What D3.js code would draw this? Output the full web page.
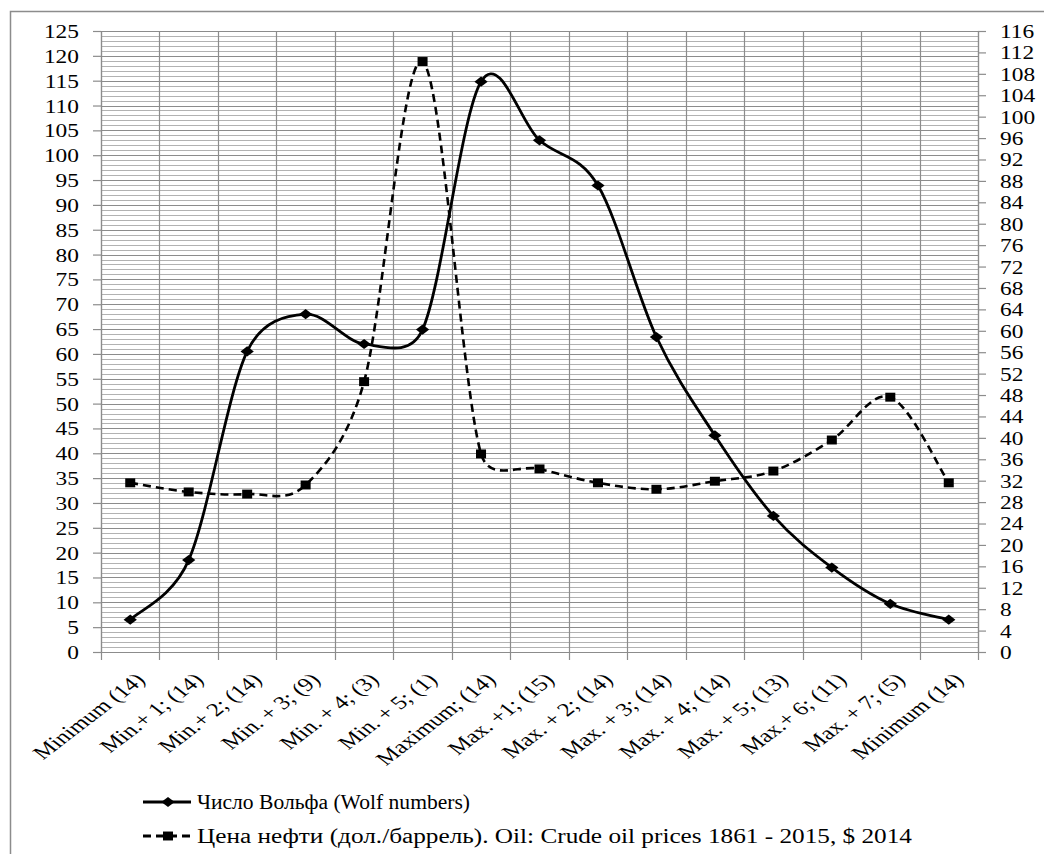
<!DOCTYPE html>
<html>
<head>
<meta charset="utf-8">
<script src="https://cdn.jsdelivr.net/npm/d3@7"></script>
</head>
<body style="margin:0; background:#fff">
<svg id="canvas"></svg>
<script>
let categories = [
  "Minimum (14)", "Min.+ 1; (14)", "Min.+ 2; (14)", "Min. + 3; (9)", "Min. + 4; (3)",
  "Min. + 5; (1)", "Maximum; (14)", "Max. +1; (15)", "Max. + 2; (14)", "Max. + 3; (14)",
  "Max. + 4; (14)", "Max. + 5; (13)", "Max.+ 6; (11)", "Max. + 7; (5)", "Minimum (14)"
];
let wolfValues = [6.5, 18.5, 60.5, 68, 62, 64.9, 114.8, 103, 93.9, 63.4, 43.6, 27.4, 17, 9.7, 6.5];
let oilValues = [31.6, 29.9, 29.5, 31.2, 50.5, 110.3, 37, 34.2, 31.6, 30.4, 31.9, 33.8, 39.6, 47.6, 31.6];
let leftTicks = d3.range(0, 126, 5);
let rightTicks = d3.range(0, 117, 4);
let legendLabels = [
  "Число Вольфа (Wolf numbers)",
  "Цена нефти (дол./баррель). Oil: Crude oil prices 1861 - 2015, $ 2014"
];

let width = 1044;
let height = 854;
let plotLeft = 101, plotRight = 978, plotTop = 31, plotBottom = 652;
let sx = 1.3; // horizontal stretch of the original picture
let grid = "#8c8c8c";
let font = "Liberation Serif";

let svg = d3.select("#canvas").attr("width", width).attr("height", height);

// outer frame, cut by the picture edge
svg.append("rect")
  .attr("x", 10.5).attr("y", 11.5).attr("width", 1200).attr("height", 1000)
  .attr("fill", "none").attr("stroke", "#8c8c8c").attr("stroke-width", 1.5);

let xScale = d3.scaleBand().domain(d3.range(categories.length)).range([plotLeft, plotRight]).paddingInner(0);
let bw = xScale.bandwidth();
let cx = (i) => xScale(i) + bw / 2;
let yLeft = d3.scaleLinear().domain([0, 125]).range([plotBottom, plotTop]);
let yRight = d3.scaleLinear().domain([0, 116]).range([plotBottom, plotTop]);

// minor horizontal grid
svg.append("g").selectAll("line")
  .data(d3.range(0, 126, 1).filter((d) => d % 5 !== 0))
  .enter().append("line")
  .attr("x1", plotLeft).attr("x2", plotRight)
  .attr("y1", (d) => Math.round(yLeft(d)) + 0.5).attr("y2", (d) => Math.round(yLeft(d)) + 0.5)
  .attr("stroke", "#b2b2b2").attr("stroke-width", 1);

// major horizontal grid
svg.append("g").selectAll("line")
  .data(leftTicks)
  .enter().append("line")
  .attr("x1", plotLeft).attr("x2", plotRight)
  .attr("y1", (d) => Math.round(yLeft(d)) + 0.5).attr("y2", (d) => Math.round(yLeft(d)) + 0.5)
  .attr("stroke", grid).attr("stroke-width", 1.2);

// vertical grid + bottom ticks at category boundaries
let bounds = d3.range(categories.length).map((i) => xScale(i)).concat([plotRight]);
svg.append("g").selectAll("line")
  .data(bounds)
  .enter().append("line")
  .attr("x1", (d) => Math.round(d) + 0.5).attr("x2", (d) => Math.round(d) + 0.5)
  .attr("y1", plotTop).attr("y2", plotBottom + 8)
  .attr("stroke", grid).attr("stroke-width", 1.2);

// left axis
let axL = svg.append("g")
  .attr("transform", "translate(" + plotLeft + ",0)")
  .call(d3.axisLeft(yLeft).tickValues(leftTicks).tickSize(8).tickSizeOuter(0));
axL.select(".domain").attr("stroke", grid).attr("stroke-width", 1.2);
axL.selectAll(".tick line").attr("stroke", grid).attr("stroke-width", 1.2);
axL.selectAll(".tick text")
  .attr("x", -22 / sx).attr("dy", "0.36em")
  .attr("transform", "scale(" + sx + ",1)")
  .attr("font-family", font).attr("font-size", 18).attr("fill", "#000");

// right axis
let axR = svg.append("g")
  .attr("transform", "translate(" + plotRight + ",0)")
  .call(d3.axisRight(yRight).tickValues(rightTicks).tickSize(8).tickSizeOuter(0));
axR.select(".domain").attr("stroke", grid).attr("stroke-width", 1.2);
axR.selectAll(".tick line").attr("stroke", grid).attr("stroke-width", 1.2);
axR.selectAll(".tick text")
  .attr("x", 22 / sx).attr("dy", "0.36em")
  .attr("transform", "scale(" + sx + ",1)")
  .attr("font-family", font).attr("font-size", 18).attr("fill", "#000");

// category labels, rotated
svg.append("g").selectAll("text")
  .data(categories)
  .enter().append("text")
  .attr("text-anchor", "end")
  .attr("transform", (d, i) => "translate(" + (cx(i) + 16) + "," + 681 + ") scale(" + sx + ",1) rotate(-45)")
  .attr("font-family", font).attr("font-size", 19)
  .text((d) => d);

// Excel-like smoothing: Catmull-Rom with control arms limited to half a segment
let smoothPath = (pts) => {
  let p = d3.path();
  let n = pts.length;
  p.moveTo(pts[0][0], pts[0][1]);
  let dist = (a, b) => Math.hypot(b[0] - a[0], b[1] - a[1]);
  for (let i = 0; i < n - 1; i++) {
    let p0 = pts[Math.max(i - 1, 0)], p1 = pts[i], p2 = pts[i + 1], p3 = pts[Math.min(i + 2, n - 1)];
    let d12 = dist(p1, p2);
    let d02 = dist(p0, p2), d13 = dist(p1, p3);
    let f1 = d02 / 6 > d12 / 2 ? d12 / 2 / d02 : 1 / 6;
    let f2 = d13 / 6 > d12 / 2 ? d12 / 2 / d13 : 1 / 6;
    let c1 = [p1[0] + (p2[0] - p0[0]) * f1, p1[1] + (p2[1] - p0[1]) * f1];
    let c2 = [p2[0] - (p3[0] - p1[0]) * f2, p2[1] - (p3[1] - p1[1]) * f2];
    p.bezierCurveTo(c1[0], c1[1], c2[0], c2[1], p2[0], p2[1]);
  }
  return p.toString();
};

let wolfPts = wolfValues.map((d, i) => [cx(i), yLeft(d)]);
let oilPts = oilValues.map((d, i) => [cx(i), yRight(d)]);

svg.append("path")
  .attr("d", smoothPath(oilPts))
  .attr("fill", "none").attr("stroke", "#000").attr("stroke-width", 2.6)
  .attr("stroke-dasharray", "8,5");

svg.append("path")
  .attr("d", smoothPath(wolfPts))
  .attr("fill", "none").attr("stroke", "#000").attr("stroke-width", 2.8);

let diamond = d3.symbol().type(d3.symbolSquare).size(52);
let square = d3.symbol().type(d3.symbolSquare).size(80);

svg.append("g").selectAll("path")
  .data(wolfValues)
  .enter().append("path")
  .attr("d", diamond())
  .attr("transform", (d, i) => "translate(" + cx(i) + "," + yLeft(d) + ") scale(" + sx + ",1) rotate(45)")
  .attr("fill", "#000");

svg.append("g").selectAll("path")
  .data(oilValues)
  .enter().append("path")
  .attr("d", square())
  .attr("transform", (d, i) => "translate(" + cx(i) + "," + yRight(d) + ") scale(1.12,1)")
  .attr("fill", "#000");

// legend
let legend = svg.append("g");
let legendY = [802, 836];
let legendLen = [273, 715];

legendY.forEach((y, k) => {
  legend.append("line")
    .attr("x1", 143).attr("x2", 191).attr("y1", y).attr("y2", y)
    .attr("stroke", "#000").attr("stroke-width", 2.8)
    .attr("stroke-dasharray", k === 1 ? "8,5" : null);
  legend.append("path")
    .attr("d", k === 0 ? diamond() : square())
    .attr("transform", "translate(168," + y + ")" + (k === 0 ? " scale(" + sx + ",1) rotate(45)" : " scale(1.12,1)"))
    .attr("fill", "#000");
  legend.append("text")
    .attr("x", 197).attr("y", y + 7)
    .attr("textLength", legendLen[k]).attr("lengthAdjust", "spacingAndGlyphs")
    .attr("font-family", font).attr("font-size", 20)
    .text(legendLabels[k]);
});
</script>
</body>
</html>
